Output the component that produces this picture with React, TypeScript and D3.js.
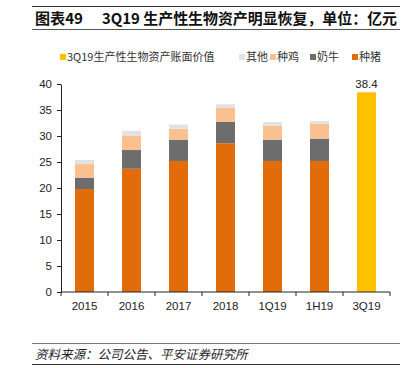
import React, { useEffect, useRef } from 'react';
import * as d3 from 'd3';

const categories = ['2015', '2016', '2017', '2018', '1Q19', '1H19', '3Q19'];
const pig = [19.8, 23.7, 25.2, 28.6, 25.2, 25.2, 0];
const cow = [2.2, 3.6, 4.1, 4.1, 4.1, 4.3, 0];
const chicken = [2.6, 2.8, 2.1, 2.7, 2.7, 2.8, 0];
const other = [0.8, 0.9, 0.8, 0.7, 0.7, 0.6, 0];
const total3Q19 = [0, 0, 0, 0, 0, 0, 38.4];
const yTicks = [0, 5, 10, 15, 20, 25, 30, 35, 40];

const seriesNames = ['种猪', '奶牛', '种鸡', '其他'];
const seriesColors = ['#E36C0A', '#6D6D6D', '#FAC090', '#E2E2E2'];
const legendItems = [
  { name: '3Q19生产性生物资产账面价值', color: '#FFC000' },
  { name: '其他', color: '#E2E2E2' },
  { name: '种鸡', color: '#FAC090' },
  { name: '奶牛', color: '#6D6D6D' },
  { name: '种猪', color: '#E36C0A' },
];

const W = 404;
const H = 368;
const cjk = '"Noto Sans CJK SC", "Liberation Sans", sans-serif';
const num = '"Liberation Sans", Arial, sans-serif';

const App = () => {
  const ref = useRef<SVGSVGElement | null>(null);

  useEffect(() => {
    const svg = d3.select(ref.current);
    svg.selectAll('*').remove();

    // header & footer rules
    svg.append('line').attr('x1', 32).attr('x2', 400).attr('y1', 6.5).attr('y2', 6.5)
      .attr('stroke', '#333').attr('stroke-width', 1);
    svg.append('line').attr('x1', 32).attr('x2', 400).attr('y1', 29.5).attr('y2', 29.5)
      .attr('stroke', '#555').attr('stroke-width', 1);
    svg.append('line').attr('x1', 32).attr('x2', 400).attr('y1', 343.5).attr('y2', 343.5)
      .attr('stroke', '#777').attr('stroke-width', 1);
    svg.append('line').attr('x1', 32).attr('x2', 400).attr('y1', 364.5).attr('y2', 364.5)
      .attr('stroke', '#333').attr('stroke-width', 1);

    // title
    svg.append('text').attr('x', 35).attr('y', 24)
      .style('font-family', cjk).style('font-size', '15px').style('font-weight', 'bold')
      .attr('textLength', 48).attr('lengthAdjust', 'spacingAndGlyphs')
      .attr('fill', '#111').text('图表49');
    svg.append('text').attr('x', 102).attr('y', 24)
      .style('font-family', cjk).style('font-size', '15px').style('font-weight', 'bold')
      .attr('textLength', 295).attr('lengthAdjust', 'spacingAndGlyphs')
      .attr('fill', '#111').text('3Q19 生产性生物资产明显恢复，单位：亿元');

    // footer
    svg.append('text').attr('x', 35).attr('y', 359)
      .style('font-family', cjk).style('font-size', '12.5px').style('font-style', 'italic')
      .attr('fill', '#222').text('资料来源：公司公告、平安证券研究所');

    // legend
    const lx = [60, 239, 270, 310, 352];
    legendItems.forEach((it, i) => {
      svg.append('rect').attr('x', lx[i]).attr('y', 54).attr('width', 6).attr('height', 6)
        .attr('fill', it.color);
      svg.append('text').attr('x', lx[i] + 7).attr('y', 61)
        .style('font-family', cjk).style('font-size', '11px').attr('fill', '#333').text(it.name);
    });

    const y = d3.scaleLinear().domain([0, 40]).range([292, 84]);

    const rows = categories.map((c, i) => ({
      cat: c, 种猪: pig[i], 奶牛: cow[i], 种鸡: chicken[i], 其他: other[i],
    }));
    const stacked = d3.stack<any>().keys(seriesNames)(rows);

    const bw = 19;
    const band = d3.scaleBand().domain(categories).range([61, 390]);
    const cx = (c: string) => (band(c) as number) + band.bandwidth() / 2;

    stacked.forEach((s, si) => {
      svg.append('g').selectAll('rect').data(s.filter(d => d[1] > d[0])).enter().append('rect')
        .attr('x', d => cx(d.data.cat) - bw / 2)
        .attr('width', bw)
        .attr('y', d => y(d[1]))
        .attr('height', d => y(d[0]) - y(d[1]))
        .attr('fill', seriesColors[si]);
    });

    const totals = categories.map((c, i) => ({ cat: c, v: total3Q19[i] })).filter(d => d.v > 0);
    svg.append('g').selectAll('rect').data(totals).enter().append('rect')
      .attr('x', d => cx(d.cat) - bw / 2)
      .attr('width', bw)
      .attr('y', d => y(d.v))
      .attr('height', d => y(0) - y(d.v))
      .attr('fill', '#FFC000');
    svg.append('g').selectAll('text').data(totals).enter().append('text')
      .attr('x', d => cx(d.cat))
      .attr('y', d => y(d.v) - 4)
      .attr('text-anchor', 'middle')
      .style('font-family', num).style('font-size', '11.5px').attr('fill', '#222')
      .text(d => d.v.toFixed(1));

    // y axis
    const yAxis = svg.append('g').attr('transform', 'translate(61,0)')
      .call(d3.axisLeft(y).tickValues(yTicks).tickSize(4).tickSizeOuter(0));
    yAxis.select('.domain').attr('stroke', '#222');
    yAxis.selectAll('line').attr('stroke', '#222');
    yAxis.selectAll('text').style('font-family', num).style('font-size', '11.5px').attr('fill', '#222')
      .attr('x', -9);

    // x axis with ticks at band boundaries
    const xAxis = svg.append('g').attr('transform', 'translate(0,292)');
    xAxis.append('line').attr('x1', 61).attr('x2', 390).attr('y1', 0).attr('y2', 0).attr('stroke', '#222');
    const bounds = categories.map(c => band(c) as number).concat([390]);
    xAxis.selectAll('line.tk').data(bounds).enter().append('line').attr('class', 'tk')
      .attr('x1', d => d).attr('x2', d => d).attr('y1', 0).attr('y2', 4).attr('stroke', '#222');
    xAxis.selectAll('text').data(categories).enter().append('text')
      .attr('x', d => cx(d)).attr('y', 18).attr('text-anchor', 'middle')
      .style('font-family', num).style('font-size', '11.5px').attr('fill', '#222')
      .text(d => d);
  }, []);

  return <svg ref={ref} width={W} height={H} style={{ position: 'absolute', left: 0, top: 0, background: '#fff' }} />;
};

export default App;
